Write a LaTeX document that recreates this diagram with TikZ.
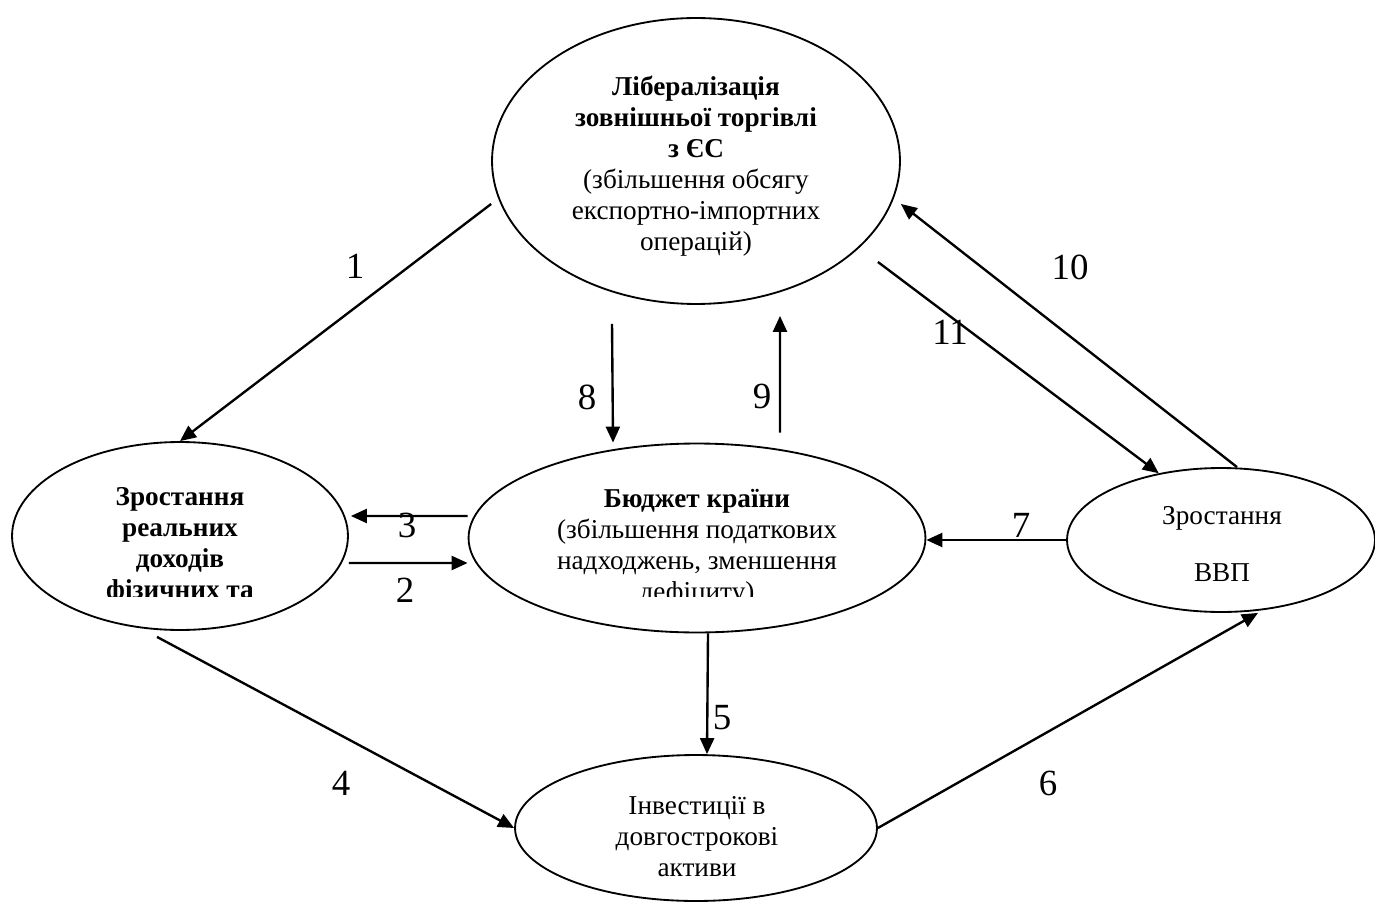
\documentclass[tikz,border=0pt]{standalone}
\usepackage{fontspec}
\setmainfont{Liberation Serif}
\usetikzlibrary{arrows.meta}
\usetikzlibrary{shapes.geometric}

\begin{document}
\begin{tikzpicture}[
        x=0.02cm, y=-0.02cm,
        bubble/.style={ellipse, draw, line width=1.05pt, inner sep=0pt},
        txt/.style={align=center, inner sep=0pt,
          font=\fontsize{15.5}{17.6}\selectfont},
        arrow/.style={-{Triangle[length=3.2mm, width=2.8mm]}, line width=1.35pt},
        num/.style={inner sep=0pt, font=\fontsize{21}{25}\selectfont},
      ]
      \useasboundingbox (0,0) rectangle (1375,902);

      % Liberalisation (top)
      \node[bubble, minimum width=8.16cm, minimum height=5.72cm] (lib) at (696,161) {};
      \node[txt] (libtext) at (696,166) {\textbf{Лібералізація}\\
        \textbf{зовнішньої торгівлі}\\\textbf{з ЄС}\\
        (збільшення обсягу\\експортно-імпортних\\операцій)};

      % Real incomes (left)
      \node[bubble, minimum width=6.72cm, minimum height=3.76cm] (inc) at (180,536) {};

      % Budget (middle)
      \node[bubble, minimum width=9.14cm, minimum height=3.78cm] (budget) at (697,538) {};

      % text boxes cut off at the bottom
      \begin{scope}
        \clip (0,0) rectangle (1375,596);
        \node[txt] (inctext) at (180,546) {\textbf{Зростання}\\\textbf{реальних}\\
          \textbf{доходів}\\\textbf{фізичних та}};
        \node[txt] (budgettext) at (697,548) {\textbf{Бюджет країни}\\
          (збільшення податкових\\надходжень, зменшення\\дефіциту)};
      \end{scope}

      % GDP growth (right)
      \node[bubble, minimum width=6.16cm, minimum height=2.88cm] (gdp) at (1221,540) {};
      \node[txt] (gdptext) at (1222,544) {Зростання\\[0.52cm]ВВП};

      % Investments (bottom)
      \node[bubble, minimum width=7.24cm, minimum height=2.92cm] (inv) at (696,828) {};
      \node[txt] (invtext) at (697,837) {Інвестиції в\\довгострокові\\активи};

      % Arrows
      \draw[arrow] ([yshift=-0.86cm]lib.west) -- (inc.north);
      \draw[arrow] ([yshift=-0.54cm]inc.east) -- ([yshift=-0.5cm]budget.west);
      \draw[arrow] ([yshift=0.44cm]budget.west) -- ([yshift=0.4cm, xshift=0.04cm]inc.east);
      \draw[arrow] ([xshift=-0.46cm, yshift=-0.12cm]inc.south) -- (inv.west);
      \draw[arrow] ([xshift=0.22cm]budget.south) -- ([xshift=0.22cm]inv.north);
      \draw[arrow] (inv.east) -- ([xshift=0.74cm]gdp.south);
      \draw[arrow] (gdp.west) -- (gdp.west -| budget.east);
      \draw[arrow] ([xshift=-1.68cm, yshift=-0.38cm]lib.south) -- ([xshift=-1.68cm]budget.north);
      \draw[arrow] ([xshift=1.66cm, yshift=0.2cm]budget.north) -- ([xshift=1.68cm, yshift=-0.22cm]lib.south);
      \draw[arrow] ([xshift=0.32cm]gdp.north) -- ([yshift=-0.86cm]lib.east);
      \draw[arrow] ([xshift=-0.46cm, yshift=-2.02cm]lib.east) -- (gdp.133);

      % Arrow numbers
      \node[num] (n1) at (355,266) {1};
      \node[num] (n2) at (405,590) {2};
      \node[num] (n3) at (407,525) {3};
      \node[num] (n4) at (341,783) {4};
      \node[num] (n5) at (722,718) {5};
      \node[num] (n6) at (1048,783) {6};
      \node[num] (n7) at (1021,525) {7};
      \node[num] (n8) at (587,397) {8};
      \node[num] (n9) at (762,396) {9};
      \node[num] (n10) at (1070,267) {10};
      \node[num] (n11) at (950,332) {11};

      \end{tikzpicture}
\end{document}
